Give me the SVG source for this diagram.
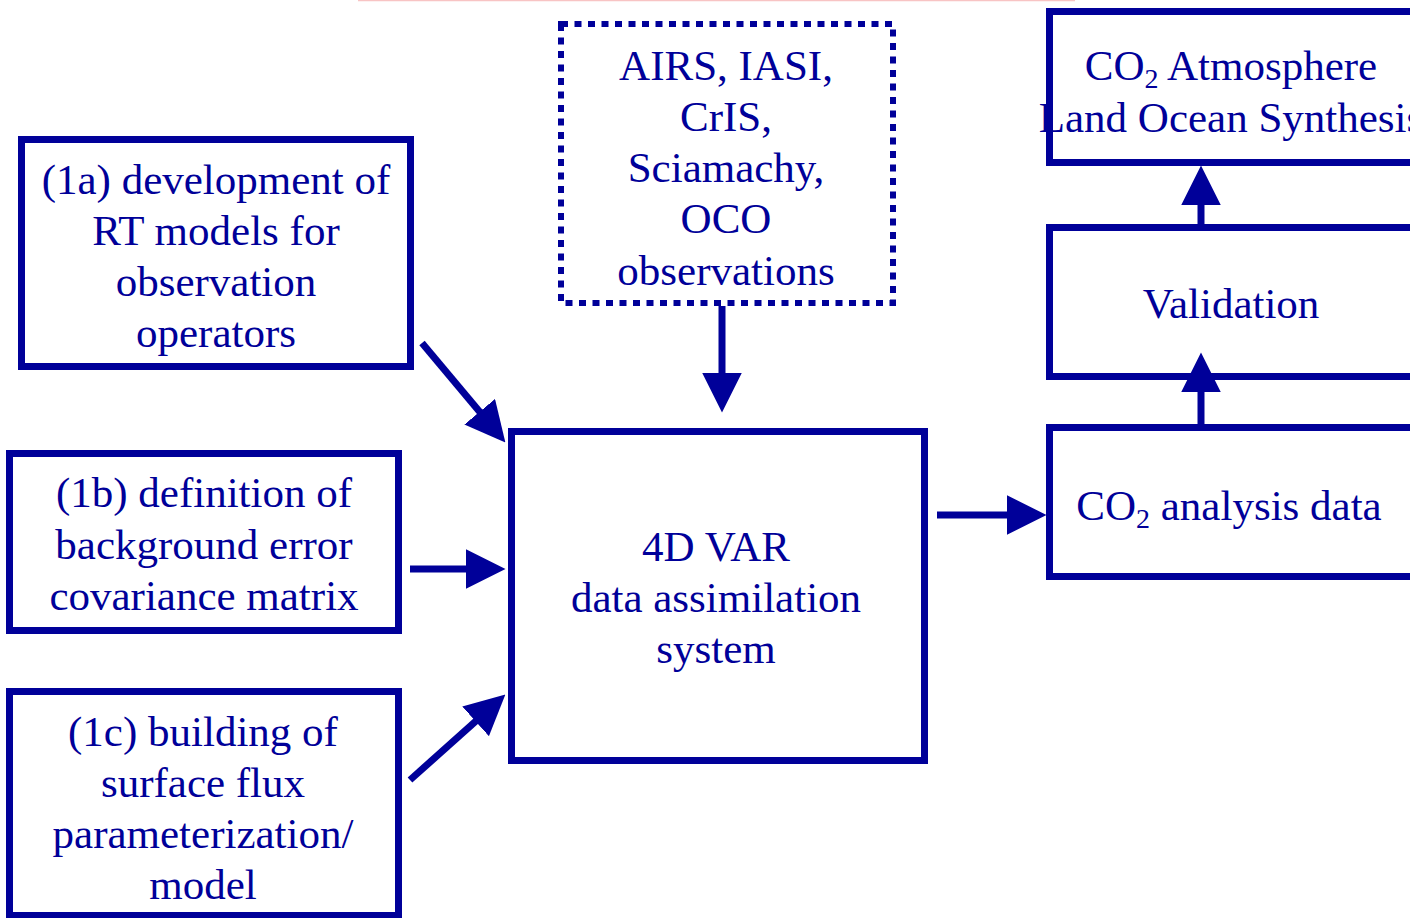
<svg xmlns="http://www.w3.org/2000/svg" width="1410" height="918" viewBox="0 0 1410 918">
  <style>
    .box { fill: #ffffff; stroke: #000099; stroke-width: 7; }
    .dotted { fill: #ffffff; stroke: #000099; stroke-width: 6; stroke-dasharray: 7 6.5; }
    .lbl { font-family: "Liberation Serif", "Times New Roman", serif; font-size: 43px; fill: #000099; text-anchor: middle; }
    .sub { font-size: 28px; }
    .conn { stroke: #000099; stroke-width: 7; fill: none; marker-end: url(#head); }
  </style>
  <defs>
    <marker id="head" markerUnits="userSpaceOnUse" markerWidth="40" markerHeight="40" viewBox="0 0 39 39" refX="19" refY="19.5" orient="auto">
      <path d="M0,0 L39,19.5 L0,39 z" fill="#000099"/>
    </marker>
  </defs>
  <rect width="1410" height="918" fill="#ffffff"/>
  <!-- thin rule along the top edge -->
  <line x1="358" y1="0.5" x2="1075" y2="0.5" stroke="#f8c4c4" stroke-width="1.5"/>

  <g id="node-1a">
    <rect class="box" x="21.5" y="139.5" width="389" height="227"/>
    <text class="lbl" x="216" y="194">(1a) development of</text>
    <text class="lbl" x="216" y="245">RT models for</text>
    <text class="lbl" x="216" y="296">observation</text>
    <text class="lbl" x="216" y="347">operators</text>
  </g>

  <g id="node-1b">
    <rect class="box" x="9.5" y="453.5" width="389" height="177"/>
    <text class="lbl" x="204" y="507">(1b) definition of</text>
    <text class="lbl" x="204" y="559">background error</text>
    <text class="lbl" x="204" y="610">covariance matrix</text>
  </g>

  <g id="node-1c">
    <rect class="box" x="9.5" y="691.5" width="389" height="224"/>
    <text class="lbl" x="203" y="746">(1c) building of</text>
    <text class="lbl" x="203" y="797">surface flux</text>
    <text class="lbl" x="203" y="848">parameterization/</text>
    <text class="lbl" x="203" y="899">model</text>
  </g>

  <g id="node-obs">
    <rect class="dotted" x="561" y="24" width="332" height="279"/>
    <text class="lbl" x="726" y="80">AIRS, IASI,</text>
    <text class="lbl" x="726" y="131">CrIS,</text>
    <text class="lbl" x="726" y="182">Sciamachy,</text>
    <text class="lbl" x="726" y="233">OCO</text>
    <text class="lbl" x="726" y="285">observations</text>
  </g>

  <g id="node-4dvar">
    <rect class="box" x="511.5" y="431.5" width="413" height="329"/>
    <text class="lbl" x="716" y="561">4D VAR</text>
    <text class="lbl" x="716" y="612">data assimilation</text>
    <text class="lbl" x="716" y="663">system</text>
  </g>

  <g id="node-synthesis">
    <rect class="box" x="1049.5" y="11.5" width="380" height="151"/>
    <text class="lbl" x="1231" y="80">CO<tspan class="sub" dy="8">2</tspan><tspan dy="-8"> Atmosphere</tspan></text>
    <text class="lbl" x="1231" y="132">Land Ocean Synthesis</text>
  </g>

  <g id="node-validation">
    <rect class="box" x="1049.5" y="227.5" width="380" height="149"/>
    <text class="lbl" x="1231" y="318">Validation</text>
  </g>

  <g id="node-analysis">
    <rect class="box" x="1049.5" y="427.5" width="380" height="149"/>
    <text class="lbl" x="1229" y="520">CO<tspan class="sub" dy="8">2</tspan><tspan dy="-8"> analysis data</tspan></text>
  </g>

  <g id="connectors">
    <line class="conn" x1="422" y1="343" x2="492.2" y2="426.7"/>
    <line class="conn" x1="410" y1="569" x2="485" y2="569"/>
    <line class="conn" x1="410" y1="780" x2="490.1" y2="708.3"/>
    <line class="conn" x1="722" y1="306" x2="722" y2="392"/>
    <line class="conn" x1="937" y1="515" x2="1026" y2="515"/>
    <line class="conn" x1="1201" y1="424" x2="1201" y2="373"/>
    <line class="conn" x1="1201" y1="224" x2="1201" y2="186"/>
  </g>
</svg>
